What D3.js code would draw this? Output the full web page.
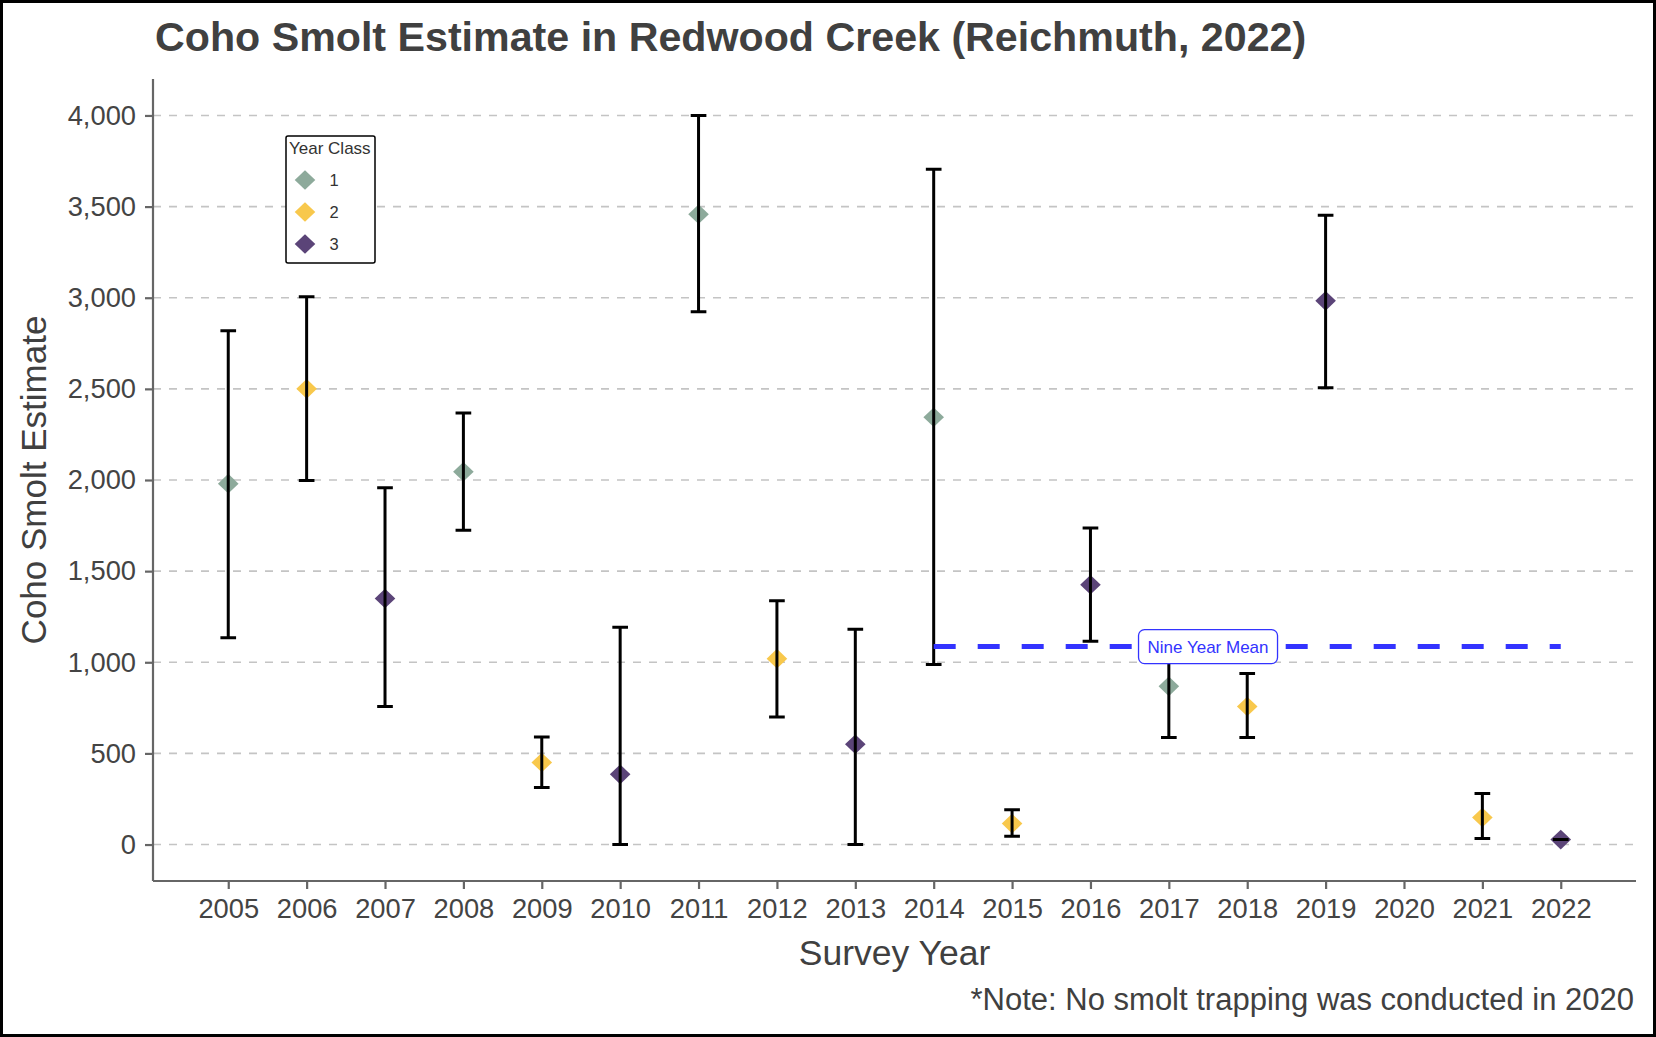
<!DOCTYPE html>
<html>
<head>
<meta charset="utf-8">
<script src="https://cdn.jsdelivr.net/npm/d3@7"></script>
<style>
  html, body { margin: 0; padding: 0; background: #fff; }
  svg { display: block; font-family: "Liberation Sans", Arial, sans-serif; }
</style>
</head>
<body>
<svg id="chart" width="1656" height="1037"></svg>
<script>
// ---- data ----
const years      = [2005, 2006, 2007, 2008, 2009, 2010, 2011, 2012, 2013, 2014, 2015, 2016, 2017, 2018, 2019, 2021, 2022];
const estimates  = [1980, 2500, 1350, 2045,  450,  385, 3458, 1020,  550, 2344,  115, 1425,  868,  757, 2983,  148,   27];
const lowerCI    = [1135, 1997,  757, 1725,  313,    0, 2923,  700,    0,  988,   45, 1115,  587,  587, 2506,   33,   27];
const upperCI    = [2819, 3005, 1957, 2368,  590, 1192, 4000, 1337, 1181, 3705,  191, 1737, 1150,  938, 3452,  280,   27];
const yearClass  = [   1,    2,    3,    1,    2,    3,    1,    2,    3,    1,    2,    3,    1,    2,    3,    2,    3];
const xTickYears = [2005, 2006, 2007, 2008, 2009, 2010, 2011, 2012, 2013, 2014, 2015, 2016, 2017, 2018, 2019, 2020, 2021, 2022];
const yTicks     = [0, 500, 1000, 1500, 2000, 2500, 3000, 3500, 4000];
const classKeys  = [1, 2, 3];
const classColors = ["#8DAA9B", "#F8C84C", "#5B4478"];
const meanStart = 2014, meanEnd = 2022, meanValue = 1086;
const meanLabel = "Nine Year Mean", meanLabelYear = 2017.5;

const svg = d3.select("#chart");
const W = 1656, H = 1037;
const panel = { left: 153, right: 1636, top: 79, bottom: 881 };

const x = d3.scaleLinear().domain([2004.04, 2022.96]).range([panel.left, panel.right]);
const y = d3.scaleLinear().domain([-200, 4200]).range([panel.bottom, panel.top]);
const color = d3.scaleOrdinal().domain(classKeys).range(classColors);

const data = years.map((yr, i) => ({ year: yr, est: estimates[i], lo: lowerCI[i], hi: upperCI[i], cls: yearClass[i] }));

// background
svg.append("rect").attr("x", 0).attr("y", 0).attr("width", W).attr("height", H).attr("fill", "#fff");

// gridlines
svg.append("g").selectAll("line").data(yTicks).join("line")
  .attr("x1", panel.left).attr("x2", panel.right)
  .attr("y1", d => y(d)).attr("y2", d => y(d))
  .attr("stroke", "#C4C4C4").attr("stroke-width", 1.6)
  .attr("stroke-dasharray", "8,8");

// axes
const yAxis = d3.axisLeft(y).tickValues(yTicks).tickFormat(d3.format(",")).tickSizeInner(8).tickSizeOuter(0).tickPadding(9);
const gy = svg.append("g").attr("transform", `translate(${panel.left},0)`).call(yAxis);
const xAxis = d3.axisBottom(x).tickValues(xTickYears).tickFormat(d3.format("d")).tickSizeInner(8).tickSizeOuter(0).tickPadding(10);
const gx = svg.append("g").attr("transform", `translate(0,${panel.bottom})`).call(xAxis);
[gx, gy].forEach(g => {
  g.select(".domain").attr("stroke", "#666").attr("stroke-width", 2.2);
  g.selectAll(".tick line").attr("stroke", "#666").attr("stroke-width", 2.2);
  g.selectAll(".tick text").attr("fill", "#444").attr("font-size", 27.3)
    .attr("font-family", "'Liberation Sans', Arial, sans-serif");
});
gy.select(".domain").attr("d", `M0,${panel.top}V${panel.bottom}`);
gx.select(".domain").attr("d", `M${panel.left},0H${panel.right}`);

// points (diamonds)
const diamond = (cx, cy) => `M${cx},${cy - 9.8}L${cx + 10.3},${cy}L${cx},${cy + 9.8}L${cx - 10.3},${cy}Z`;
svg.append("g").selectAll("path").data(data).join("path")
  .attr("d", d => diamond(x(d.year), y(d.est)))
  .attr("fill", d => color(d.cls));

// error bars
const capHalf = (x(2005.1) - x(2005));
const eb = svg.append("g").attr("stroke", "#000").attr("stroke-width", 3).attr("fill", "none");
eb.selectAll("path").data(data).join("path")
  .attr("d", d => {
    const cx = x(d.year), yl = y(d.lo), yh = y(d.hi);
    return `M${cx - capHalf},${yh}H${cx + capHalf}M${cx},${yh}V${yl}M${cx - capHalf},${yl}H${cx + capHalf}`;
  });

// nine-year mean line
svg.append("line")
  .attr("x1", x(meanStart)).attr("x2", x(meanEnd))
  .attr("y1", y(meanValue)).attr("y2", y(meanValue))
  .attr("stroke", "#3333FF").attr("stroke-width", 5).attr("stroke-dasharray", "22,22");

// mean label
const lblW = 139, lblH = 34;
const lg = svg.append("g").attr("transform", `translate(${x(meanLabelYear)},${y(meanValue)})`);
lg.append("rect").attr("x", -lblW / 2).attr("y", -lblH / 2).attr("width", lblW).attr("height", lblH)
  .attr("rx", 6).attr("ry", 6).attr("fill", "#fff").attr("stroke", "#3333FF").attr("stroke-width", 1.3);
lg.append("text").attr("text-anchor", "middle").attr("dy", "0.35em")
  .attr("font-size", 17).attr("fill", "#3333FF").text(meanLabel);

// legend
const leg = svg.append("g").attr("transform", "translate(286,136)");
leg.append("rect").attr("x", 0).attr("y", 0).attr("width", 89).attr("height", 127)
  .attr("rx", 2).attr("fill", "#fff").attr("stroke", "#000").attr("stroke-width", 1.5);
leg.append("text").attr("x", 3).attr("y", 18).attr("font-size", 17).attr("fill", "#333").text("Year Class");
classKeys.forEach((k, i) => {
  const cy = 44 + i * 32;
  leg.append("path").attr("d", diamond(19, cy)).attr("fill", color(k));
  leg.append("text").attr("x", 48).attr("y", cy).attr("dy", "0.36em").attr("text-anchor", "middle")
    .attr("font-size", 16.5).attr("fill", "#333").text(k);
});

// titles
svg.append("text").attr("x", 155).attr("y", 51).attr("font-size", 41.2).attr("font-weight", "bold")
  .attr("fill", "#404040").text("Coho Smolt Estimate in Redwood Creek (Reichmuth, 2022)");
svg.append("text").attr("x", (panel.left + panel.right) / 2).attr("y", 965).attr("text-anchor", "middle")
  .attr("font-size", 35.5).attr("fill", "#404040").text("Survey Year");
svg.append("text").attr("transform", `translate(46,${(panel.top + panel.bottom) / 2}) rotate(-90)`)
  .attr("text-anchor", "middle").attr("font-size", 35).attr("fill", "#404040").text("Coho Smolt Estimate");
svg.append("text").attr("x", 1634).attr("y", 1010).attr("text-anchor", "end")
  .attr("font-size", 31).attr("fill", "#404040").text("*Note: No smolt trapping was conducted in 2020");

// outer border
svg.append("rect").attr("x", 1.5).attr("y", 1.5).attr("width", W - 3).attr("height", H - 3)
  .attr("fill", "none").attr("stroke", "#000").attr("stroke-width", 3);
</script>
</body>
</html>
